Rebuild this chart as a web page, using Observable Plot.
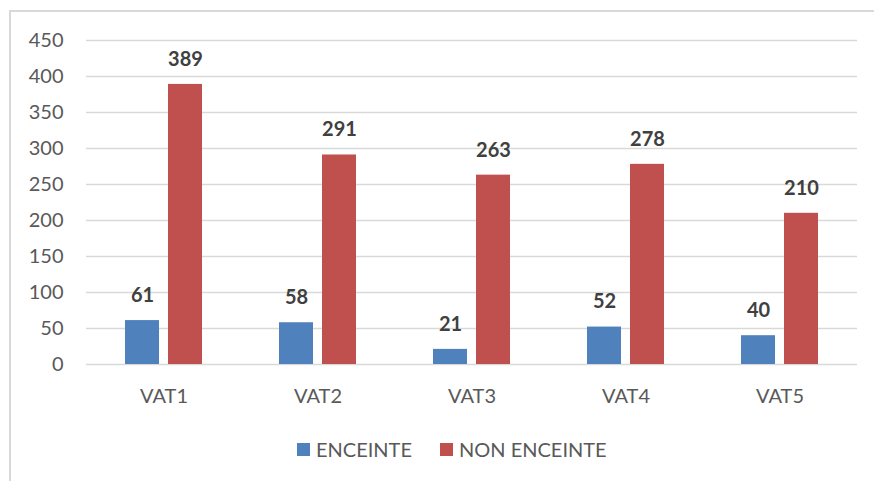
<!DOCTYPE html>
<html>
<head>
<meta charset="utf-8">
<script src="https://cdn.jsdelivr.net/npm/d3@7"></script>
<script src="https://cdn.jsdelivr.net/npm/@observablehq/plot@0.6"></script>
<style>
  html, body { margin: 0; padding: 0; background: #fff; width: 874px; height: 481px; overflow: hidden; }
  #frame { position: absolute; left: 9px; top: 10px; width: 900px; height: 500px; border-top: 2px solid #d9d9d9; border-left: 2px solid #d9d9d9; }
  #grid, #chart { position: absolute; left: 0; top: 0; }
  #legend { position: absolute; top: 436px; left: 0; width: 874px; font-family: Lato, sans-serif; font-size: 20px; color: #595959; }
  .item { position: absolute; top: 0; display: flex; align-items: center; height: 26px; }
  .sw { width: 13px; height: 13px; margin-right: 6px; }
</style>
</head>
<body>
<div id="frame"></div>
<div id="grid"></div>
<div id="chart"></div>
<div id="legend"></div>
<script>
const categories = ["VAT1", "VAT2", "VAT3", "VAT4", "VAT5"];
const series = ["ENCEINTE", "NON ENCEINTE"];
const enceinte = [61, 58, 21, 52, 40];
const nonEnceinte = [389, 291, 263, 278, 210];
const yTicks = [0, 50, 100, 150, 200, 250, 300, 350, 400, 450];
const colors = ["#4F81BD", "#C0504D"];

const data = [];
categories.forEach((c, i) => {
  data.push({cat: c, series: series[0], value: enceinte[i]});
  data.push({cat: c, series: series[1], value: nonEnceinte[i]});
});

const common = {
  width: 874,
  height: 420,
  marginTop: 40,
  marginBottom: 56,
  marginLeft: 86,
  marginRight: 17,
  style: {fontFamily: "Lato, sans-serif", fontSize: "20px", color: "#595959", background: "transparent", overflow: "visible"},
  y: {domain: [0, 450], label: null}
};

const gridPlot = Plot.plot({
  ...common,
  x: {domain: categories, axis: null},
  marks: [
    Plot.gridY(yTicks, {stroke: "#d9d9d9", strokeOpacity: 1, strokeWidth: 1.5}),
    Plot.axisY(yTicks, {tickSize: 0, tickPadding: 23, label: null, fontSize: 20})
  ]
});
document.getElementById("grid").appendChild(gridPlot);

const chart = Plot.plot({
  ...common,
  fx: {domain: categories, paddingInner: 0.487, paddingOuter: 0.2435, label: null},
  x: {domain: series, paddingInner: 0.2045, paddingOuter: 0, axis: null},
  color: {domain: series, range: colors},
  marks: [
    Plot.axisFx({anchor: "bottom", tickSize: 0, tickPadding: 24, label: null, fontSize: 20}),
    Plot.axisY({ticks: [], label: null}),
    Plot.barY(data, {fx: "cat", x: "series", y: "value", fill: "series"}),
    Plot.text(data, {fx: "cat", x: "series", y: "value", text: d => String(d.value), dy: -25, fontSize: 20, fontWeight: "bold", fill: "#404040"})
  ]
});
document.getElementById("chart").appendChild(chart);

const legend = document.getElementById("legend");
const lefts = [297, 440];
series.forEach((s, i) => {
  const it = document.createElement("div");
  it.className = "item";
  it.style.left = lefts[i] + "px";
  const sw = document.createElement("div");
  sw.className = "sw";
  sw.style.background = colors[i];
  const t = document.createElement("span");
  t.textContent = s;
  it.appendChild(sw);
  it.appendChild(t);
  legend.appendChild(it);
});
</script>
</body>
</html>
